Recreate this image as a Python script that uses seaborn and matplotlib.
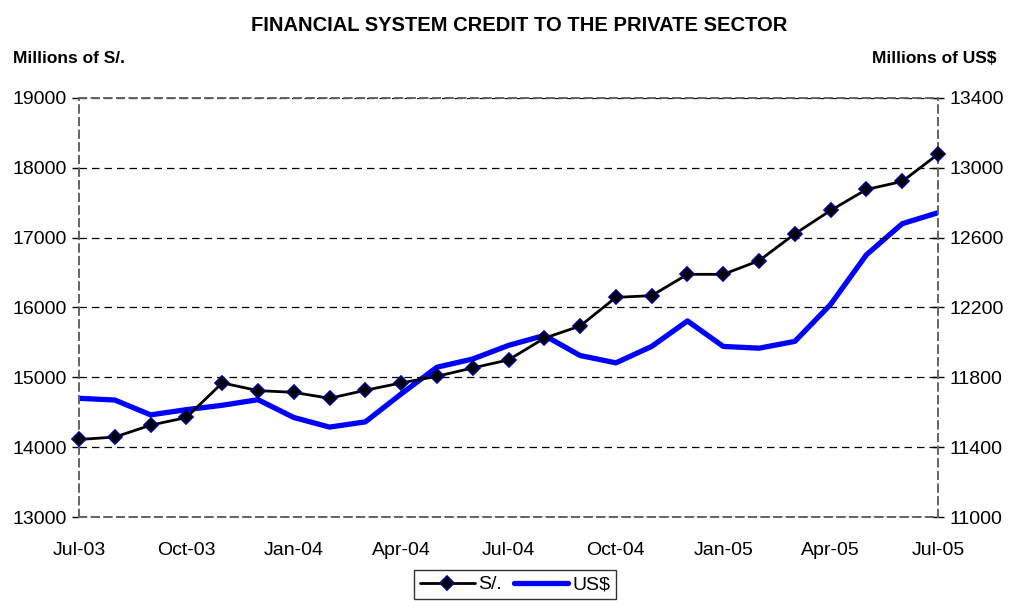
import numpy as np
import pandas as pd
import matplotlib
matplotlib.use("Agg")
import matplotlib.pyplot as plt
import seaborn as sns

# monthly series, Jul-03 .. Jul-05
months = ["Jul-03", "Aug-03", "Sep-03", "Oct-03", "Nov-03", "Dec-03",
          "Jan-04", "Feb-04", "Mar-04", "Apr-04", "May-04", "Jun-04",
          "Jul-04", "Aug-04", "Sep-04", "Oct-04", "Nov-04", "Dec-04",
          "Jan-05", "Feb-05", "Mar-05", "Apr-05", "May-05", "Jun-05", "Jul-05"]
credit_soles = [14110, 14145, 14315, 14425, 14920, 14810, 14785, 14700, 14815,
                14920, 15015, 15135, 15250, 15560, 15735, 16145, 16170, 16475,
                16475, 16670, 17055, 17390, 17690, 17805, 18195]
credit_dollars = [11680, 11670, 11585, 11615, 11640, 11672, 11570, 11515, 11545,
                  11705, 11858, 11905, 11983, 12040, 11925, 11883, 11977, 12123,
                  11977, 11967, 12006, 12218, 12502, 12680, 12743]
tick_labels = months[::3]
left_ticks = [13000, 14000, 15000, 16000, 17000, 18000, 19000]
right_ticks = [11000, 11400, 11800, 12200, 12600, 13000, 13400]

df = pd.DataFrame({"pos": np.arange(len(months)),
                   "soles": credit_soles,
                   "dollars": credit_dollars})

sns.set_style("white")
plt.rcParams["font.family"] = ["Liberation Sans", "DejaVu Sans"]
plt.rcParams["text.color"] = "black"
plt.rcParams["xtick.color"] = "black"
plt.rcParams["ytick.color"] = "black"

fig = plt.figure(figsize=(10.12, 6.12), dpi=100)
ax = fig.add_axes([0.0781, 0.1552, 0.8488, 0.6847])
ax2 = ax.twinx()

sns.lineplot(data=df, x="pos", y="soles", ax=ax, color="black", linewidth=2.0,
             marker="D", markersize=7, markerfacecolor="black",
             markeredgecolor="#000080", markeredgewidth=1.2, clip_on=False,
             label="S/.", legend=False, zorder=5)
sns.lineplot(data=df, x="pos", y="dollars", ax=ax2, color="#0000FF",
             linewidth=3.8, label="US$", legend=False, zorder=4)

ax.set_zorder(ax2.get_zorder() + 1)
ax.patch.set_visible(False)

ax.set_xlim(0, len(months) - 1)
ax.set_ylim(13000, 19000)
ax2.set_ylim(11000, 13400)
ax.set_yticks(left_ticks)
ax2.set_yticks(right_ticks)
ax.set_xticks(df["pos"][::3])
ax.set_xticklabels(tick_labels)
ax.set_xlabel("")
ax.set_ylabel("")
ax2.set_ylabel("")

ax.grid(axis="y", color="black", linestyle=(0, (6, 4)), linewidth=0.9)
ax.tick_params(axis="x", length=0, pad=18, labelsize=14)
ax.tick_params(axis="y", direction="out", length=5, width=1, color="black",
               labelsize=14, pad=4)
ax2.tick_params(axis="y", direction="inout", length=8, width=1, color="black",
                labelsize=14, pad=4)

for a in (ax, ax2):
    for s in a.spines.values():
        s.set_linestyle((0, (4, 3)))
        s.set_color("#666666")
        s.set_linewidth(1.3)

fig.text(0.513, 0.959, "FINANCIAL SYSTEM CREDIT TO THE PRIVATE SECTOR",
         ha="center", va="center", fontsize=14.5, fontweight="bold")
fig.text(0.013, 0.905, "Millions of S/.", ha="left", va="center",
         fontsize=12.5, fontweight="bold")
fig.text(0.985, 0.905, "Millions of US$", ha="right", va="center",
         fontsize=12.5, fontweight="bold")

h1, l1 = ax.get_legend_handles_labels()
h2, l2 = ax2.get_legend_handles_labels()
leg = fig.legend(h1 + h2, l1 + l2, loc="lower center",
                 bbox_to_anchor=(0.509, 0.005), ncol=2, fontsize=14,
                 frameon=True, fancybox=False, handlelength=2.8,
                 handletextpad=0.2, columnspacing=0.6, borderpad=0.3)
leg.get_frame().set_edgecolor("black")
leg.get_frame().set_linewidth(1.0)

fig.savefig("out.png", dpi=100)
